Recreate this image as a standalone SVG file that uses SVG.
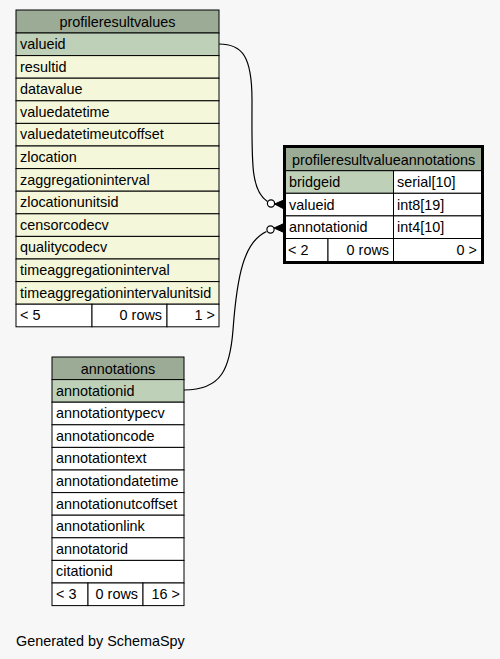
<svg xmlns="http://www.w3.org/2000/svg" width="500" height="659" viewBox="0 0 500 659">
<style>
text{font-family:"Liberation Sans",Arial,Helvetica,sans-serif;font-size:14.4px;fill:#000}
.hd{fill:#9bab96;stroke:#000;stroke-width:1}
.pk{fill:#bed1b8;stroke:#000;stroke-width:1}
.bg{fill:#f4f7da;stroke:#000;stroke-width:1}
.wt{fill:#ffffff;stroke:#000;stroke-width:1}
.c{text-anchor:middle}
.r{text-anchor:end}
.edge{fill:none;stroke:#000;stroke-width:1.2}
.dot{fill:#fff;stroke:#000;stroke-width:1.2}
.crow{fill:#000;stroke:#000;stroke-width:1}
</style>
<rect x="0" y="0" width="500" height="659" fill="#f7f7f7"/>

<g id="profileresultvalues">
<rect class="hd" x="16" y="10" width="203" height="23"/>
<text class="c" x="117.5" y="27">profileresultvalues</text>
<rect class="pk" x="16" y="33" width="203" height="22.6"/>
<text x="20" y="49">valueid</text>
<rect class="bg" x="16" y="55.6" width="203" height="22.6"/>
<text x="20" y="71.6">resultid</text>
<rect class="bg" x="16" y="78.2" width="203" height="22.6"/>
<text x="20" y="94.2">datavalue</text>
<rect class="bg" x="16" y="100.8" width="203" height="22.6"/>
<text x="20" y="116.8">valuedatetime</text>
<rect class="bg" x="16" y="123.4" width="203" height="22.6"/>
<text x="20" y="139.4">valuedatetimeutcoffset</text>
<rect class="bg" x="16" y="146" width="203" height="22.6"/>
<text x="20" y="162">zlocation</text>
<rect class="bg" x="16" y="168.6" width="203" height="22.6"/>
<text x="20" y="184.6">zaggregationinterval</text>
<rect class="bg" x="16" y="191.2" width="203" height="22.6"/>
<text x="20" y="207.2">zlocationunitsid</text>
<rect class="bg" x="16" y="213.8" width="203" height="22.6"/>
<text x="20" y="229.8">censorcodecv</text>
<rect class="bg" x="16" y="236.4" width="203" height="22.6"/>
<text x="20" y="252.4">qualitycodecv</text>
<rect class="bg" x="16" y="259" width="203" height="22.6"/>
<text x="20" y="275">timeaggregationinterval</text>
<rect class="bg" x="16" y="281.6" width="203" height="22.6"/>
<text x="20" y="297.6">timeaggregationintervalunitsid</text>
<rect class="wt" x="16" y="304.2" width="76" height="22.6"/>
<rect class="wt" x="92" y="304.2" width="75" height="22.6"/>
<rect class="wt" x="167" y="304.2" width="52" height="22.6"/>
<text x="20" y="320.2">&lt; 5</text>
<text class="r" x="162" y="320.2">0 rows</text>
<text class="r" x="215" y="320.2">1 &gt;</text>
</g>

<g id="profileresultvalueannotations">
<rect x="284.5" y="146.5" width="198" height="116" fill="#fff" stroke="#000" stroke-width="3"/>
<rect class="hd" x="284.5" y="146.5" width="198" height="24.2"/>
<text class="c" x="383.5" y="165">profileresultvalueannotations</text>
<rect class="pk" x="284.5" y="170.7" width="109" height="22.6"/>
<rect class="wt" x="393.5" y="170.7" width="89" height="22.6"/>
<text x="289" y="187">bridgeid</text>
<text x="397" y="187">serial[10]</text>
<rect class="wt" x="284.5" y="193.3" width="109" height="22.6"/>
<rect class="wt" x="393.5" y="193.3" width="89" height="22.6"/>
<text x="289" y="209.5">valueid</text>
<text x="397" y="209.5">int8[19]</text>
<rect class="wt" x="284.5" y="215.9" width="109" height="22.6"/>
<rect class="wt" x="393.5" y="215.9" width="89" height="22.6"/>
<text x="289" y="232">annotationid</text>
<text x="397" y="232">int4[10]</text>
<rect class="wt" x="284.5" y="238.5" width="43.5" height="24"/>
<rect class="wt" x="328" y="238.5" width="65.5" height="24"/>
<rect class="wt" x="393.5" y="238.5" width="89" height="24"/>
<text x="288" y="255">&lt; 2</text>
<text class="r" x="389" y="255">0 rows</text>
<text class="r" x="477" y="255">0 &gt;</text>
<rect x="284.5" y="146.5" width="198" height="116" fill="none" stroke="#000" stroke-width="3"/>
</g>

<g id="annotations">
<rect class="hd" x="52" y="357" width="132" height="22.6"/>
<text class="c" x="118" y="373.5">annotations</text>
<rect class="pk" x="52" y="379.6" width="132" height="22.6"/>
<text x="56" y="395.6">annotationid</text>
<rect class="wt" x="52" y="402.2" width="132" height="22.6"/>
<text x="56" y="418.2">annotationtypecv</text>
<rect class="wt" x="52" y="424.8" width="132" height="22.6"/>
<text x="56" y="440.8">annotationcode</text>
<rect class="wt" x="52" y="447.4" width="132" height="22.6"/>
<text x="56" y="463.4">annotationtext</text>
<rect class="wt" x="52" y="470" width="132" height="22.6"/>
<text x="56" y="486">annotationdatetime</text>
<rect class="wt" x="52" y="492.6" width="132" height="22.6"/>
<text x="56" y="508.6">annotationutcoffset</text>
<rect class="wt" x="52" y="515.2" width="132" height="22.6"/>
<text x="56" y="531.2">annotationlink</text>
<rect class="wt" x="52" y="537.8" width="132" height="22.6"/>
<text x="56" y="553.8">annotatorid</text>
<rect class="wt" x="52" y="560.4" width="132" height="22.6"/>
<text x="56" y="576.4">citationid</text>
<rect class="wt" x="52" y="583" width="36" height="22.6"/>
<rect class="wt" x="88" y="583" width="55" height="22.6"/>
<rect class="wt" x="143" y="583" width="41" height="22.6"/>
<text x="56" y="599">&lt; 3</text>
<text class="r" x="138" y="599">0 rows</text>
<text class="r" x="180" y="599">16 &gt;</text>
</g>

<g id="connectors">
<path class="edge" d="M219,44 C242,44 252,56 252,100 C252,160 250,190 267.5,201.5"/>
<circle class="dot" cx="271" cy="203.5" r="3.6"/>
<path class="crow" d="M274.5,204 L285,199.5 L283,204.5 L285,209.5 Z"/>
<path class="edge" d="M184,390 C222,390 230,368 233,330 C237,275 244,242 266.5,231.5"/>
<circle class="dot" cx="270.5" cy="229.5" r="3.6"/>
<path class="crow" d="M274,228 L285,223 L283,228 L285,233 Z"/>
</g>

<text x="16" y="646">Generated by SchemaSpy</text>
</svg>
